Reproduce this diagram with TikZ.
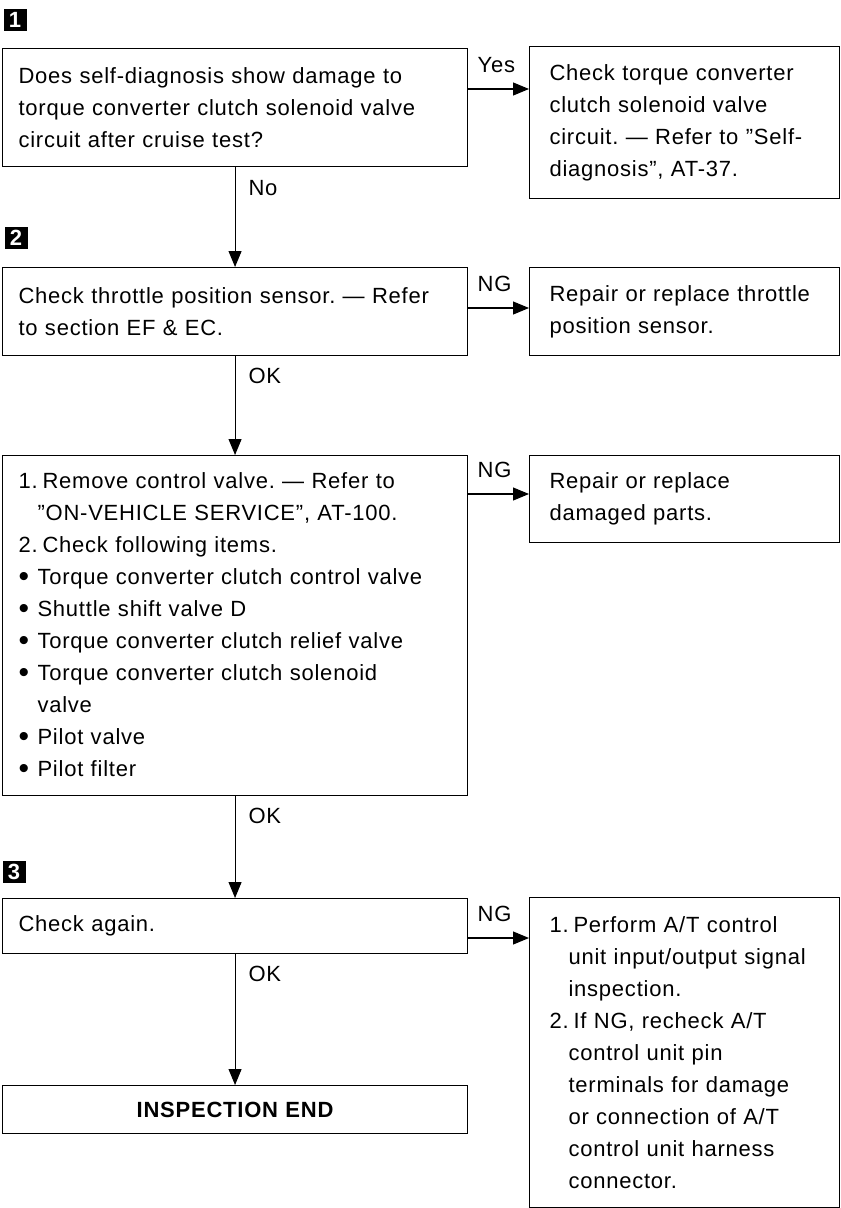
\documentclass[tikz,border=0pt]{standalone}
\usepackage{fontspec}
\setmainfont[LetterSpace=3.5]{Liberation Sans}
\usetikzlibrary{arrows.meta}
\frenchspacing

\tikzset{
  box/.style={draw, line width=1.1pt, anchor=north west, inner ysep=0pt,
    align=left, font=\fontsize{22}{32}\selectfont},
  leftbox/.style={box, inner xsep=16pt, minimum width=465pt, text width=433pt},
  rightbox/.style={box, inner xsep=20pt, minimum width=310pt, text width=270pt},
  flow/.style={line width=1.1pt, -{Triangle[length=16pt,width=13pt]}},
  lbl/.style={inner sep=0pt, font=\fontsize{22}{26}\selectfont},
  stepmark/.style={fill=black, text=white, inner sep=0pt, minimum width=23pt,
    minimum height=22pt, font=\fontsize{22}{22}\selectfont\bfseries}
}
\newcommand{\num}[1]{\makebox[24pt][l]{#1}}
\newcommand{\blt}{\makebox[19pt][l]{\fontsize{30}{22}\selectfont\raisebox{-1.5pt}{•}}}
\newcommand{\ind}{\hspace*{19pt}}

\begin{document}
\begin{tikzpicture}[x=1pt,y=-1pt]
\useasboundingbox (0,0) rectangle (841,1208);

% step marks
\node[stepmark] (s1) at (15,20) {1};
\node[stepmark] (s2) at (16,238) {2};
\node[stepmark] (s3) at (14,872) {3};

% left column
\node[leftbox, minimum height=118pt] (q1) at (2,48)
  {Does self-diagnosis show damage to\\torque converter clutch solenoid valve\\circuit after cruise test?};
\node[leftbox, minimum height=88pt] (q2) at (2,267)
  {Check throttle position sensor. — Refer\\to section EF \& EC.};
\node[leftbox, minimum height=340pt] (q3) at (2,455)
  {\num{1.}Remove control valve. — Refer to\\
   \ind''ON-VEHICLE SERVICE'', AT-100.\\
   \num{2.}Check following items.\\
   \blt Torque converter clutch control valve\\
   \blt Shuttle shift valve D\\
   \blt Torque converter clutch relief valve\\
   \blt Torque converter clutch solenoid\\
   \ind valve\\
   \blt Pilot valve\\
   \blt Pilot filter};
\node[leftbox, minimum height=55pt] (q4) at (2,898) {Check again.};
\node[leftbox, minimum height=48pt, align=center] (fin) at (2,1085)
  {\bfseries INSPECTION END};

% right column
\node[rightbox, minimum height=152pt] (a1) at (529,46)
  {Check torque converter\\clutch solenoid valve\\circuit. — Refer to ''Self-\\diagnosis'', AT-37.};
\node[rightbox, minimum height=88pt] (a2) at (529,267)
  {Repair or replace throttle\\position sensor.};
\node[rightbox, minimum height=87pt] (a3) at (529,455)
  {Repair or replace\\damaged parts.};
\node[rightbox, minimum height=310pt] (a4) at (529,897)
  {\num{1.}Perform A/T control\\
   \ind unit input/output signal\\
   \ind inspection.\\
   \num{2.}If NG, recheck A/T\\
   \ind control unit pin\\
   \ind terminals for damage\\
   \ind or connection of A/T\\
   \ind control unit harness\\
   \ind connector.};

\coordinate (y1) at (0,89);
\coordinate (y2) at (0,308);
\coordinate (y3) at (0,494);
\coordinate (y4) at (0,938);

\draw[flow] (q1.east |- y1) -- (a1.west |- y1)
  node[lbl, pos=0, anchor=base west, xshift=9pt, yshift=17pt] {Yes};
\draw[flow] (q2.east |- y2) -- (a2.west |- y2)
  node[lbl, pos=0, anchor=base west, xshift=9pt, yshift=17pt] {NG};
\draw[flow] (q3.east |- y3) -- (a3.west |- y3)
  node[lbl, pos=0, anchor=base west, xshift=9pt, yshift=17pt] {NG};
\draw[flow] (q4.east |- y4) -- (a4.west |- y4)
  node[lbl, pos=0, anchor=base west, xshift=9pt, yshift=17pt] {NG};

\draw[flow] (q1.south) -- (q2.north)
  node[lbl, pos=0, anchor=north west, xshift=13pt, yshift=-13pt] {No};
\draw[flow] (q2.south) -- (q3.north)
  node[lbl, pos=0, anchor=north west, xshift=13pt, yshift=-11pt] {OK};
\draw[flow] (q3.south) -- (q4.north)
  node[lbl, pos=0, anchor=north west, xshift=13pt, yshift=-11pt] {OK};
\draw[flow] (q4.south) -- (fin.north)
  node[lbl, pos=0, anchor=north west, xshift=13pt, yshift=-11pt] {OK};
\end{tikzpicture}
\end{document}
